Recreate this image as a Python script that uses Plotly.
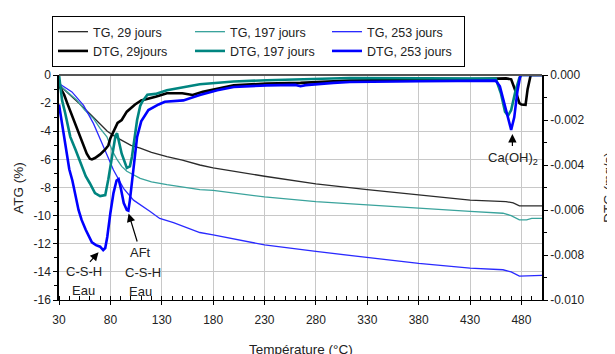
import plotly.graph_objects as go

# ---------------- data ----------------
# TG curves (mass loss, %), left axis
tg29_T = [30, 40, 50, 60, 70, 77, 85, 93, 100, 109, 120, 135, 150, 167, 180, 230, 280, 330, 380, 430, 465, 472, 478, 500]
tg29_v = [-0.7, -1.35, -2.05, -2.75, -3.45, -4.0, -4.4, -4.75, -5.0, -5.2, -5.5, -5.8, -6.05, -6.4, -6.6, -7.2, -7.75, -8.15, -8.5, -8.9, -9.0, -9.1, -9.3, -9.3]

tg197_T = [30, 40, 47.5, 55, 63.6, 70, 76.6, 82, 86.4, 91, 96, 109, 120, 135, 167, 180, 230, 280, 330, 380, 430, 462, 470, 478, 485, 490, 500]
tg197_v = [-0.7, -1.3, -1.8, -2.5, -3.1, -3.8, -4.4, -5.4, -6.0, -6.5, -6.85, -7.35, -7.6, -7.8, -8.15, -8.2, -8.67, -9.0, -9.25, -9.48, -9.7, -9.83, -10.0, -10.3, -10.3, -10.2, -10.2]

tg253_T = [30, 42.6, 53.9, 63.6, 73.3, 83, 92.8, 102.5, 118.7, 128, 141.4, 167, 180, 230, 280, 330, 380, 430, 462, 470, 478, 500]
tg253_v = [-0.6, -1.2, -2.16, -3.46, -5.1, -6.76, -8.06, -8.9, -9.7, -10.2, -10.5, -11.2, -11.37, -12.08, -12.55, -12.95, -13.4, -13.73, -13.85, -14.0, -14.3, -14.25]

# DTG curves (mg/s), right axis
dtg29_T = [30, 35, 38, 44, 51, 57, 60, 62, 65, 70, 75, 78, 80, 83, 87, 91, 96, 104, 110, 124, 135, 150, 160, 170, 184, 200, 232, 265, 313, 380, 430, 465, 470, 475, 478, 480, 484, 486, 489, 500]
dtg29_v = [-0.00046, -0.000875, -0.00125, -0.00194, -0.00275, -0.0035, -0.00372, -0.00375, -0.00369, -0.00353, -0.00331, -0.00313, -0.00281, -0.00253, -0.00213, -0.0020, -0.00163, -0.00131, -0.00113, -0.00097, -0.00081, -0.00081, -0.00089, -0.00075, -0.00061, -0.00046, -0.00038, -0.00035, -0.00025, -0.00023, -0.00019, -0.00015, -0.00019, -0.00081, -0.00125, -0.00131, -0.00133, -0.00063, 0.0, 0.0]

dtg197_T = [30, 33, 36, 41, 46, 51, 56, 60, 65, 70, 75, 78, 80, 82, 85, 86.5, 88, 91, 96, 99, 101, 103, 106, 109, 111, 116, 124, 135, 151, 167, 200, 232, 313, 380, 430, 455, 460, 464, 467, 470, 474, 478, 480, 500]
dtg197_v = [0.0, -0.00113, -0.00169, -0.00275, -0.00331, -0.00394, -0.0045, -0.00481, -0.00525, -0.00538, -0.00534, -0.00463, -0.00406, -0.00344, -0.00269, -0.00259, -0.00288, -0.0035, -0.00413, -0.00406, -0.00363, -0.003, -0.002, -0.00138, -0.00119, -0.00088, -0.00084, -0.00068, -0.00053, -0.00041, -0.00029, -0.00023, -0.00013, -0.00013, -0.00013, -0.00016, -0.00081, -0.00163, -0.00181, -0.00156, -0.00075, -0.00013, 0.0, 0.0]

dtg253_T = [30, 33, 36, 40, 43, 46, 49, 52, 56, 62, 66, 70, 73, 75, 77, 80, 83, 86, 88, 90, 93, 96, 97.5, 99, 101, 102.5, 106, 110, 117, 127, 133, 151, 167, 184, 200, 232, 260, 265, 270, 297, 313, 380, 430, 455, 459, 463, 467, 470, 473, 476, 479, 500]
dtg253_v = [-0.00131, -0.00219, -0.00319, -0.00419, -0.00469, -0.00538, -0.006, -0.00644, -0.00688, -0.00744, -0.00756, -0.00763, -0.00778, -0.00769, -0.00719, -0.00613, -0.00525, -0.00469, -0.00463, -0.005, -0.00569, -0.006, -0.00603, -0.00556, -0.00469, -0.00406, -0.00275, -0.00206, -0.00156, -0.00131, -0.00119, -0.00113, -0.00089, -0.00068, -0.00053, -0.00046, -0.00044, -0.0005, -0.00045, -0.00035, -0.00031, -0.00028, -0.00025, -0.00025, -0.0005, -0.00125, -0.002, -0.00244, -0.00188, -0.00075, 0.0, 0.0]

# tick labels
x_ticks = [30, 80, 130, 180, 230, 280, 330, 380, 430, 480]
y_ticks = [0, -2, -4, -6, -8, -10, -12, -14, -16]
y_ticktext = ["0", "-2", "-4", "-6", "-8", "-10", "-12", "-14", "-16"]
y2_ticks = [0.0, -0.002, -0.004, -0.006, -0.008, -0.010]
y2_ticktext = ["0.000", "-0.002", "-0.004", "-0.006", "-0.008", "-0.010"]

# ---------------- styles ----------------
FONT = "Liberation Sans, Arial, sans-serif"
TXT = "#222222"
C_BLACK_THIN = "#2b2b2b"
C_TEAL_THIN = "#3aa39c"
C_BLUE_THIN = "#2a2aff"
C_BLACK = "#000000"
C_TEAL = "#008580"
C_BLUE = "#0000ff"

fig = go.Figure()
fig.add_trace(go.Scatter(x=tg29_T, y=tg29_v, name="TG, 29 jours", mode="lines",
                         line=dict(color=C_BLACK_THIN, width=1.3)))
fig.add_trace(go.Scatter(x=tg197_T, y=tg197_v, name="TG, 197 jours", mode="lines",
                         line=dict(color=C_TEAL_THIN, width=1.3)))
fig.add_trace(go.Scatter(x=tg253_T, y=tg253_v, name="TG, 253 jours", mode="lines",
                         line=dict(color=C_BLUE_THIN, width=1.3)))
fig.add_trace(go.Scatter(x=dtg29_T, y=dtg29_v, name="DTG, 29jours", mode="lines", yaxis="y2",
                         line=dict(color=C_BLACK, width=2.6)))
fig.add_trace(go.Scatter(x=dtg197_T, y=dtg197_v, name="DTG, 197 jours", mode="lines", yaxis="y2",
                         line=dict(color=C_TEAL, width=2.6)))
fig.add_trace(go.Scatter(x=dtg253_T, y=dtg253_v, name="DTG, 253 jours", mode="lines", yaxis="y2",
                         line=dict(color=C_BLUE, width=2.6)))

# the page adds an 8px body margin, so the figure is laid out 8px up/left
fig.update_layout(
    width=615, height=354,
    margin=dict(l=51, r=81, t=67, b=62, autoexpand=False),
    paper_bgcolor="white", plot_bgcolor="white",
    font=dict(family=FONT, size=12, color=TXT),
    showlegend=True,
    legend=dict(orientation="h", x=-0.0145, xanchor="left", y=1.262, yanchor="top",
                entrywidth=92, entrywidthmode="pixels", itemwidth=30,
                bordercolor="#000000", borderwidth=1, bgcolor="white",
                font=dict(family=FONT, size=12.5, color=TXT), traceorder="normal"),
    xaxis=dict(range=[30, 500], tickmode="array", tickvals=x_ticks,
               showgrid=True, gridcolor="#c8c8c8", gridwidth=1,
               showline=True, linecolor="#000000", linewidth=1.2,
               ticks="outside", ticklen=4, tickcolor="#000000",
               minor=dict(tickmode="linear", tick0=30, dtick=10, ticks="inside", ticklen=4,
                          tickcolor="#000000", showgrid=False),
               zeroline=False, tickfont=dict(size=12), ticklabelstandoff=4),
    yaxis=dict(range=[-16, 0], tickmode="array", tickvals=y_ticks, ticktext=y_ticktext,
               showgrid=True, gridcolor="#c8c8c8", gridwidth=1,
               showline=True, linecolor="#000000", linewidth=1.5,
               ticks="outside", ticklen=4, tickcolor="#000000",
               minor=dict(tickmode="linear", tick0=0, dtick=1, ticks="outside", ticklen=3,
                          tickcolor="#000000", showgrid=False),
               zeroline=False, tickfont=dict(size=12)),
    yaxis2=dict(range=[-0.010, 0], overlaying="y", side="right", tickmode="array",
                tickvals=y2_ticks, ticktext=y2_ticktext, showgrid=False,
                showline=True, linecolor="#000000", linewidth=1.5,
                ticks="outside", ticklen=4, tickcolor="#000000",
                minor=dict(tickmode="linear", tick0=0, dtick=0.001, ticks="outside", ticklen=3,
                           tickcolor="#000000", showgrid=False),
                zeroline=False, tickfont=dict(size=12)),
)

# top border of plot area
fig.add_shape(type="line", xref="paper", yref="paper", x0=0, x1=1, y0=1, y1=1,
              line=dict(color="#555555", width=2))

# axis titles
fig.add_annotation(text="ATG (%)", xref="paper", yref="paper", x=-0.0842, y=0.5,
                   textangle=-90, showarrow=False, font=dict(size=13.5, color=TXT),
                   xanchor="center", yanchor="middle")
fig.add_annotation(text="DTG (mg/s)", xref="paper", yref="paper", x=1.137, y=0.5,
                   textangle=-90, showarrow=False, font=dict(size=13.5, color=TXT),
                   xanchor="center", yanchor="middle")
fig.add_annotation(text="Température (°C)", xref="paper", yref="paper", x=0.5, y=-0.222,
                   showarrow=False, font=dict(size=13.5, color=TXT),
                   xanchor="center", yanchor="middle")

# peak labels
ann_font = dict(size=13, color=TXT)
fig.add_annotation(text="C-S-H", x=54, y=-14.0, showarrow=False, font=ann_font)
fig.add_annotation(text="Eau", x=53.5, y=-15.3, showarrow=False, font=ann_font)
fig.add_annotation(text="AFt", x=109, y=-12.64, showarrow=False, font=ann_font)
fig.add_annotation(text="C-S-H", x=111.6, y=-14.06, showarrow=False, font=ann_font)
fig.add_annotation(text="Eau", x=109, y=-15.4, showarrow=False, font=ann_font)
fig.add_annotation(text="Ca(OH)<sub>2</sub>", x=472, y=-5.92, showarrow=False, font=ann_font)

# arrows
arrow_kw = dict(text="", showarrow=True, arrowhead=2, arrowsize=1.4, arrowwidth=1.2,
                arrowcolor="#000000", axref="x", ayref="y")
fig.add_annotation(x=68.5, y=-12.6, ax=58.8, ay=-13.4, **arrow_kw)
fig.add_annotation(x=97.7, y=-9.84, ax=106.5, ay=-11.95, **arrow_kw)
fig.add_annotation(x=471.2, y=-4.2, ax=471.2, ay=-5.15, **arrow_kw)

fig.write_html("out.html")
